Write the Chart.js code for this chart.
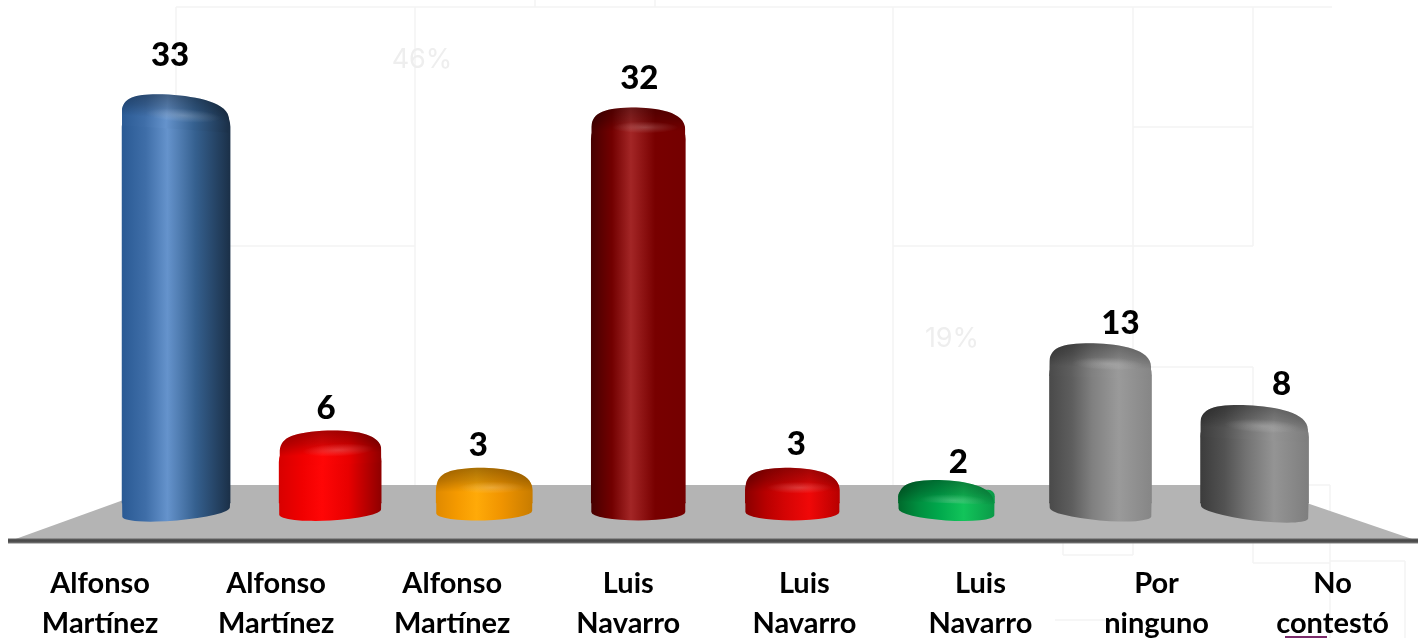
<!DOCTYPE html>
<html><head><meta charset="utf-8">
<style>html,body{margin:0;padding:0;background:#fff;overflow:hidden}canvas{display:block}</style>
<script src="https://cdn.jsdelivr.net/npm/chart.js@4"></script></head>
<body><canvas id="c" width="1430" height="638"></canvas>
<script>
const categories=[["Alfonso","Martínez"],["Alfonso","Martínez"],["Alfonso","Martínez"],["Luis","Navarro"],["Luis","Navarro"],["Luis","Navarro"],["Por","ninguno"],["No","contestó"]];
const values=[33,6,3,32,3,2,13,8];
const slots=[1,2,3,4,5,6,7,8];
const barWidths=[108,102,96,94,94,96,102,108];
const palettes=[
 ["#2a5a94","#3f6ea8","#6593cc","#35608f","#1b3048"],
 ["#d80000","#f00000","#ff0606","#e80000","#8f0000"],
 ["#e08a00","#f59a00","#ffaa08","#f09400","#c87c00"],
 ["#470000","#720000","#a32626","#780000","#740000"],
 ["#8a0000","#b80000","#d40404","#f00808","#b80000"],
 ["#006a2c","#009040","#00a84c","#12c45a","#0a9a48"],
 ["#4a4a4a","#5e5e5e","#808080","#9a9a9a","#868686"],
 ["#3c3c3c","#525252","#727272","#949494","#7e7e7e"]];
const topTilt=[4,-2.5,-0.5,0,0,2,2,3];
const footTilt=[-5,-3,-1.5,0,0,4,5,7];
const labelShift=[-6,-4,-6,1,4,12,20,27];
const labelLift=[50,32,32,39,33,28,30,31];
const FOOT=12,FONT='Lato, "Open Sans", sans-serif';
const rad=d=>d*Math.PI/180;
function hGrad(ctx,i,cx,w){const g=ctx.createLinearGradient(cx-w/2,0,cx+w/2,0);const p=palettes[i];
 [0,.22,.42,.68,1].forEach((s,k)=>g.addColorStop(s,p[k]));return g;}
const faint=[[176,7,1332,7],[176,7,176,246],[176,246,415,246],[415,7,415,485],[535,0,535,7],[655,0,655,7],
 [893,7,893,485],[893,246,1253,246],[1133,7,1133,555],[1133,127,1253,127],[1253,7,1253,246],
 [1133,367,1253,367],[1253,367,1253,563],[1063,555,1133,555],[1063,485,1063,555],[1308,485,1330,485],[1330,485,1330,638],[1253,563,1330,563],
 [1330,561,1405,561],[1405,561,1405,638],[1055,620,1125,620]];
const scenery={id:'scenery',
 beforeDraw(chart){const c=chart.ctx;c.save();
  c.strokeStyle='#f3f3f3';c.lineWidth=1.5;
  faint.forEach(l=>{c.beginPath();c.moveTo(l[0],l[1]);c.lineTo(l[2],l[3]);c.stroke();});
  c.fillStyle='#eeeeee';c.font='27px Inter, sans-serif';c.textAlign='center';c.textBaseline='middle';
  c.fillText('46%',422,60);c.fillText('19%',952,339);
  c.fillStyle='#b4b4b4';c.beginPath();c.moveTo(165,485);c.lineTo(1254,485);c.lineTo(1418,541);c.lineTo(10,541);c.closePath();c.fill();
  const g=c.createLinearGradient(0,538,0,544);g.addColorStop(0,'#6a6a6a');g.addColorStop(.5,'#444');g.addColorStop(1,'#8a8a8a');
  c.fillStyle=g;c.fillRect(8,538.5,1412,5);
  c.fillStyle='#7a2a6a';c.fillRect(1285,636,42,2);
  c.restore();},
 afterDatasetsUpdate(chart){chart.getDatasetMeta(0).data.forEach((el,i)=>{el.width=barWidths[i];el.base=el.base-FOOT;});},
 afterDatasetsDraw(chart){const c=chart.ctx,meta=chart.getDatasetMeta(0);
  meta.data.forEach((el,i)=>{const w=barWidths[i],h=w/2,cx=el.x,y=el.y,yb=el.base,L=cx-h,R=cx+h;
   // foot
   c.save();c.fillStyle=hGrad(c,i,cx,w);c.beginPath();
   c.ellipse(cx,yb+9,h,8.5,rad(footTilt[i]),0,Math.PI);
   c.lineTo(L,yb-1);c.lineTo(R,yb-1);c.closePath();c.fill();c.restore();
   // cap
   c.save();c.beginPath();c.rect(L,y-30,w,60);c.clip();
   c.translate(cx,y);c.rotate(rad(topTilt[i]));
   const drop=Math.min(24,yb-y);
   const path=new Path2D();path.moveTo(-h-4,drop);path.lineTo(-h,drop);path.lineTo(-h,12);
   path.bezierCurveTo(-h,-4,-h+w*.1,-9,-h*.15,-10);
   path.bezierCurveTo(h*.4,-10,h,-6,h,12);path.lineTo(h,drop);path.lineTo(h+4,drop);path.closePath();
   c.fillStyle=hGrad(c,i,0,w);c.fill(path);
   const v=c.createLinearGradient(0,-10,0,14);v.addColorStop(0,'rgba(0,0,0,.34)');v.addColorStop(.5,'rgba(0,0,0,.2)');v.addColorStop(1,'rgba(0,0,0,0)');
   c.fillStyle=v;c.fill(path);
   c.save();c.clip(path);c.translate(h*.15,10);c.scale(1,.18);
   const r=c.createRadialGradient(0,0,0,0,0,h*.7);r.addColorStop(0,'rgba(255,255,255,.2)');r.addColorStop(1,'rgba(255,255,255,0)');
   c.fillStyle=r;c.beginPath();c.arc(0,0,h*.7,0,7);c.fill();c.restore();
   c.restore();
   // value
   c.save();c.fillStyle='#000';c.font='900 33px '+FONT;c.textAlign='center';c.textBaseline='middle';
   c.fillText(String(values[i]),cx+labelShift[i],y-labelLift[i]);c.restore();
  });}
};
new Chart(document.getElementById('c'),{
 type:'bar',
 data:{labels:categories,datasets:[{
  xAxisID:'xb',yAxisID:'y',
  data:values.map((v,i)=>({x:slots[i],y:v})),
  barThickness:100,borderWidth:0,borderRadius:{topLeft:22,topRight:22,bottomLeft:0,bottomRight:0},
  backgroundColor(ctx){const chart=ctx.chart;const i=ctx.dataIndex;
   if(i===undefined||!chart.scales.xb)return '#888888';
   const cx=chart.scales.xb.getPixelForValue(slots[i]);
   if(!Number.isFinite(cx))return palettes[i][2];
   return hGrad(chart.ctx,i,cx,barWidths[i]);}
 }]},
 options:{responsive:false,animation:false,
  layout:{autoPadding:false,padding:{left:12,right:0,top:18,bottom:0}},
  plugins:{legend:{display:false},tooltip:{enabled:false},title:{display:false}},
  scales:{
   x:{type:'category',offset:true,grid:{display:false},border:{display:false},
      ticks:{autoSkip:false,maxRotation:0,minRotation:0,padding:41,color:'#000',font:{family:FONT,weight:'bold',size:29,lineHeight:1.36}},
      afterFit(s){s.height=123;}},
   xb:{type:'linear',display:false,offset:false,min:-0.065,max:9.078},
   y:{type:'linear',display:false,min:0,max:40}
  }},
 plugins:[scenery]
});
</script></body></html>
